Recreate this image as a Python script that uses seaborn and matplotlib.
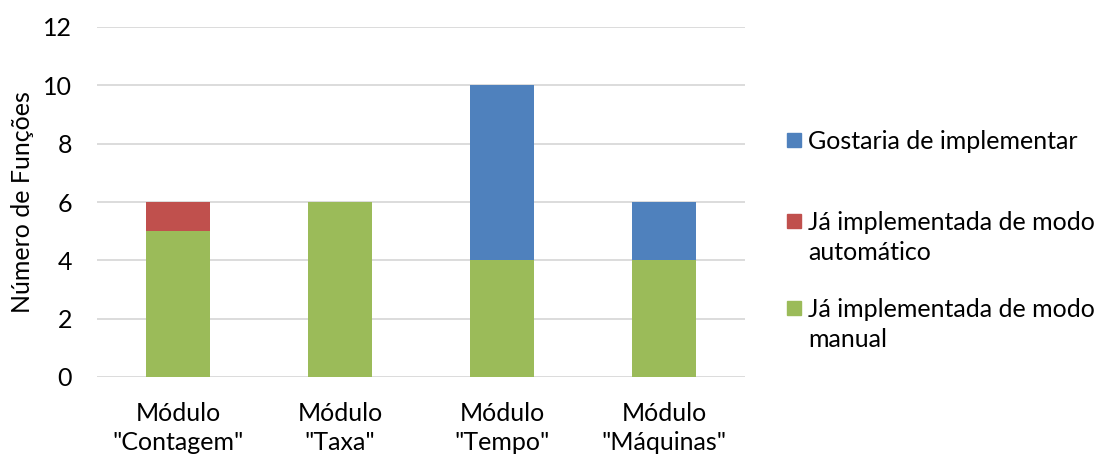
import matplotlib
matplotlib.use("Agg")
import matplotlib.pyplot as plt
from matplotlib.patches import Rectangle
import seaborn as sns
import pandas as pd
import numpy as np

categories = ['Módulo\n"Contagem"', 'Módulo\n"Taxa"', 'Módulo\n"Tempo"', 'Módulo\n"Máquinas"']
manual = [5, 6, 4, 4]
automatico = [1, 0, 0, 0]
gostaria = [0, 0, 6, 2]
series_labels = ["Gostaria de implementar", "Já implementada de modo\nautomático", "Já implementada de modo\nmanual"]
colors = ["#4F81BD", "#C0504D", "#9BBB59"]
y_ticks = [0, 2, 4, 6, 8, 10, 12]

sns.set_theme(style="white")
plt.rcParams['font.family'] = ['Lato', 'DejaVu Sans']
FS = 18

df = pd.DataFrame({"cat": categories, "manual": manual, "auto": automatico, "gost": gostaria})
df["lvl1"] = df["manual"]
df["lvl2"] = df["manual"] + df["auto"]
df["lvl3"] = df["lvl2"] + df["gost"]

fig = plt.figure(figsize=(11.02, 4.55), dpi=100)
ax = fig.add_axes([97/1102, 1 - 377/455, (745-97)/1102, (377-27)/455])

for col, c in zip(["lvl3", "lvl2", "lvl1"], colors):
    sns.barplot(data=df, x="cat", y=col, color=c, width=0.4, ax=ax, saturation=1, linewidth=0, zorder=3)

ax.set_ylim(0, 12)
ax.set_xlim(-0.5, 3.5)
ax.set_yticks(y_ticks)
ax.yaxis.grid(True, color="#D9D9D9", linewidth=1.3, zorder=0)
ax.set_axisbelow(True)
for s in ax.spines.values():
    s.set_visible(False)
ax.tick_params(axis="both", length=0, labelsize=FS, colors="black")
ax.tick_params(axis="y", pad=18)
ax.tick_params(axis="x", pad=18)
ax.set_xlabel("")
ax.set_ylabel("Número de Funções", fontsize=FS, color="black")
ax.yaxis.set_label_coords((22 - 97) / 648, 0.5)
ax.yaxis.label.set_va("center")
for t in ax.get_xticklabels():
    t.set_linespacing(1.3)

# legend
ys = [140, 221, 308]
for lab, c, y in zip(series_labels, colors, ys):
    fig.patches.append(Rectangle((787/1102, 1 - (y+7)/455), 14/1102, 14/455,
                                 transform=fig.transFigure, color=c, figure=fig))
    fig.text(808/1102, 1 - (y - 10)/455, lab, fontsize=FS, va="top", ha="left",
             linespacing=1.38, color="black")

fig.savefig("out.png", dpi=100)
